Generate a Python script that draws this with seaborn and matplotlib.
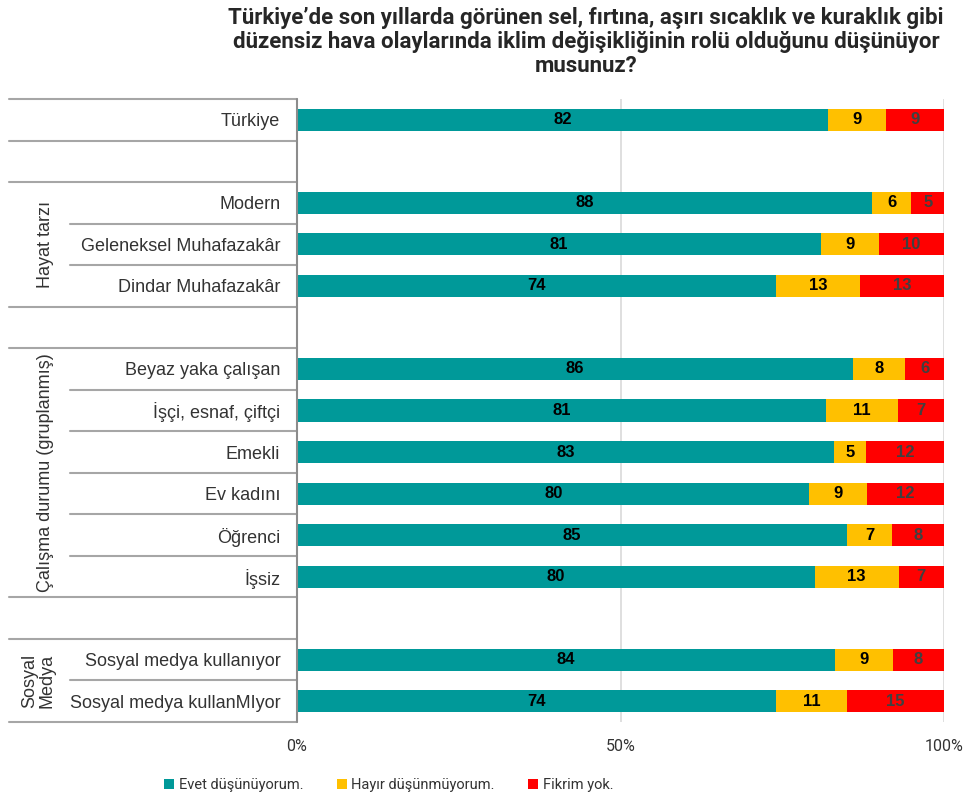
import matplotlib
matplotlib.use("Agg")
import matplotlib.pyplot as plt
import matplotlib.transforms as mtransforms
from matplotlib.patches import Patch
import seaborn as sns
import pandas as pd
import numpy as np

# Data
labels = ["Türkiye", "Modern", "Geleneksel Muhafazakâr", "Dindar Muhafazakâr",
          "Beyaz yaka çalışan", "İşçi, esnaf, çiftçi", "Emekli", "Ev kadını",
          "Öğrenci", "İşsiz", "Sosyal medya kullanıyor", "Sosyal medya kullanMIyor"]
evet = [82, 88, 81, 74, 86, 81, 83, 80, 85, 80, 84, 74]
hayir = [9, 6, 9, 13, 8, 11, 5, 9, 7, 13, 9, 11]
fikir = [9, 5, 10, 13, 6, 7, 12, 12, 8, 7, 8, 15]
series_names = ["Evet düşünüyorum.", "Hayır düşünmüyorum.", "Fikrim yok."]
colors = ["#009999", "#FFC000", "#FF0000"]
text_colors = ["black", "black", "#404040"]

# row order with blank spacer rows
order = ["Türkiye", " ",
         "Modern", "Geleneksel Muhafazakâr", "Dindar Muhafazakâr", "  ",
         "Beyaz yaka çalışan", "İşçi, esnaf, çiftçi", "Emekli", "Ev kadını",
         "Öğrenci", "İşsiz", "   ",
         "Sosyal medya kullanıyor", "Sosyal medya kullanMIyor"]
groups = [("Hayat tarzı", "Modern", "Dindar Muhafazakâr"),
          ("Çalışma durumu (gruplanmış)", "Beyaz yaka çalışan", "İşsiz"),
          ("Sosyal\nMedya", "Sosyal medya kullanıyor", "Sosyal medya kullanMIyor")]

df = pd.DataFrame({"row": labels, "evet": evet, "hayir": hayir, "fikir": fikir})
tot = df[["evet", "hayir", "fikir"]].sum(axis=1)
df["c1"] = df["evet"] / tot * 100
df["c2"] = (df["evet"] + df["hayir"]) / tot * 100
df["c3"] = 100.0

sns.set_style("white")
narrow = ["Roboto", "DejaVu Sans"]
plt.rcParams["font.family"] = ["Liberation Sans", "DejaVu Sans"]

fig = plt.figure(figsize=(9.72, 8.02), dpi=100)
ax = fig.add_axes([297 / 972, 1 - 722 / 802, 647 / 972, 623 / 802])

# light gridlines at 50% and 100%
for gx in [50, 100]:
    ax.axvline(gx, color="#d9d9d9", lw=1.2, zorder=0)

for col, c in zip(["c3", "c2", "c1"], colors[::-1]):
    sns.barplot(data=df, x=col, y="row", order=order, color=c, width=0.53,
                errorbar=None, linewidth=0, saturation=1, ax=ax, zorder=2)

ax.set_xlim(0, 100)
ax.set_ylim(len(order) - 0.5, -0.5)
ax.set_xticks([0, 50, 100])
ax.set_xticklabels(["0%", "50%", "100%"], fontsize=11.5, family=narrow)
ax.tick_params(axis="x", length=0, pad=12, colors="#333333")
ax.tick_params(axis="y", length=0, pad=12, labelsize=13, colors="#333333")
ax.set_xlabel("")
ax.set_ylabel("")
for s in ax.spines.values():
    s.set_visible(False)
ax.axvline(0, color="#8c8c8c", lw=1.5, zorder=3, clip_on=False)

# segment value labels
for _, r in df.iterrows():
    y = order.index(r["row"])
    starts = [0, r["c1"], r["c2"]]
    ends = [r["c1"], r["c2"], r["c3"]]
    vals = [r["evet"], r["hayir"], r["fikir"]]
    for s0, s1, v, tc in zip(starts, ends, vals, text_colors):
        ax.text((s0 + s1) / 2, y, f"{v}", ha="center", va="center",
                fontsize=12, fontweight="bold", color=tc, zorder=4)

# left label area lines
trans = mtransforms.blended_transform_factory(ax.transAxes, ax.transData)
full_x0 = (9 - 297) / 647
short_x0 = (70 - 297) / 647
line_kw = dict(color="#a6a6a6", lw=1.5, transform=trans, clip_on=False)
n = len(order)
in_group = set()
for _, a, b in groups:
    ia, ib = order.index(a), order.index(b)
    for k in range(ia, ib):
        in_group.add(k + 0.5)
for k in range(n + 1):
    yb = k - 0.5
    x0 = short_x0 if yb in in_group else full_x0
    ax.plot([x0, 0], [yb, yb], **line_kw)

# group labels
for name, a, b in groups:
    yc = (order.index(a) + order.index(b)) / 2
    xg = (45 - 297) / 647 if "\n" not in name else (38 - 297) / 647
    ax.text(xg, yc, name, rotation=90, ha="center", va="center",
            fontsize=13, color="#333333", transform=trans,
            linespacing=1.0)

fig.text(586 / 972, 1 - 42 / 802,
         "Türkiye’de son yıllarda görünen sel, fırtına, aşırı sıcaklık ve kuraklık gibi\n"
         "düzensiz hava olaylarında iklim değişikliğinin rolü olduğunu düşünüyor\n"
         "musunuz?",
         ha="center", va="center", fontsize=16, fontweight="bold",
         family=narrow, color="#262626", linespacing=1.1)

handles = [Patch(facecolor=c, edgecolor="none") for c in colors]
fig.legend(handles, series_names, loc="center left",
           bbox_to_anchor=(151 / 972, 1 - 785 / 802), ncol=3, frameon=False,
           handlelength=0.7, handleheight=0.7, handletextpad=0.3,
           columnspacing=2.3, prop={"family": narrow, "size": 10.5},
           labelcolor="#333333")

fig.savefig("out.png", dpi=100)
